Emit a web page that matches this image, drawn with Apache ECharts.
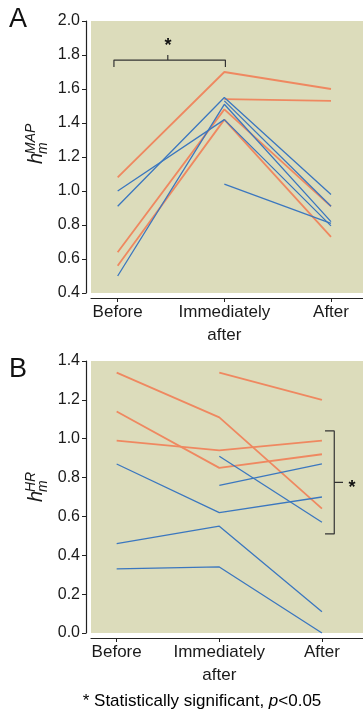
<!DOCTYPE html>
<html>
<head>
<meta charset="utf-8">
<script src="https://cdn.jsdelivr.net/npm/echarts@6/dist/echarts.min.js"></script>
<style>
  html, body { margin: 0; padding: 0; background: #fff; }
  #chart { width: 363px; height: 713px; }
</style>
</head>
<body>
<div id="chart"></div>
<script>
// time points
var categories = ['Before', 'Immediately\nafter', 'After'];

// panel A: h_m^MAP, one row per subject (null = not measured)
var mapOrange = [
    [1.08, 1.70, 1.60],
    [null, 1.54, 1.53],
    [0.64, 1.48, 0.91],
    [0.56, 1.42, 0.73]
];
var mapBlue = [
    [0.91, 1.55, 0.98],
    [null, 1.53, 0.91],
    [0.50, 1.51, 0.82],
    [1.00, 1.42, 0.795],
    [null, 1.04, 0.81]
];

// panel B: h_m^HR
var hrOrange = [
    [1.34, 1.11, 0.64],
    [1.14, 0.85, 0.92],
    [0.99, 0.94, 0.99],
    [null, 1.34, 1.20]
];
var hrBlue = [
    [0.87, 0.62, 0.70],
    [null, 0.91, 0.57],
    [null, 0.76, 0.87],
    [0.46, 0.55, 0.11],
    [0.33, 0.34, 0.00]
];

var mapTicks = [0.4, 0.6, 0.8, 1.0, 1.2, 1.4, 1.6, 1.8, 2.0];
var hrTicks = [0.0, 0.2, 0.4, 0.6, 0.8, 1.0, 1.2, 1.4];

var ORANGE = '#ef8860';
var BLUE = '#3b77bf';
var FONT = 'Liberation Sans';

function toPoints(row) {
    var pts = [];
    row.forEach(function (v, i) {
        if (v !== null) pts.push([i, v]);
    });
    return pts;
}

function lineSeries(rows, color, width, idx) {
    return rows.map(function (row) {
        return {
            type: 'line',
            xAxisIndex: idx,
            yAxisIndex: idx,
            data: toPoints(row),
            symbol: 'none',
            silent: true,
            lineStyle: { color: color, width: width },
            z: color === BLUE ? 3 : 2
        };
    });
}

function bracket(points, idx) {
    return {
        type: 'line',
        xAxisIndex: idx,
        yAxisIndex: idx,
        data: points,
        symbol: 'none',
        silent: true,
        lineStyle: { color: '#333', width: 1.2 },
        z: 4
    };
}

function xAxis(idx, max) {
    return {
        type: 'value',
        gridIndex: idx,
        min: -0.25,
        max: max,
        offset: 5,
        axisLine: { show: true, onZero: false, lineStyle: { color: '#222', width: 1.2 } },
        axisTick: { show: true, length: 4, customValues: [0, 1, 2], lineStyle: { color: '#222' } },
        splitLine: { show: false },
        axisLabel: {
            customValues: [0, 1, 2],
            margin: 3,
            fontSize: 17,
            lineHeight: 23,
            color: '#1a1a1a',
            fontFamily: FONT,
            formatter: function (v) { return categories[Math.round(v)]; }
        }
    };
}

function yAxis(idx, ticks) {
    return {
        type: 'value',
        gridIndex: idx,
        min: ticks[0],
        max: ticks[ticks.length - 1],
        interval: 0.2,
        offset: 5,
        axisLine: { show: true, onZero: false, lineStyle: { color: '#222', width: 1.2 } },
        axisTick: { show: true, length: 4, lineStyle: { color: '#222' } },
        splitLine: { show: false },
        axisLabel: {
            margin: 6,
            fontSize: 16,
            color: '#1a1a1a',
            fontFamily: FONT,
            formatter: function (v) { return v.toFixed(1); }
        }
    };
}

function yName(x, y, sup) {
    return {
        type: 'group',
        x: x,
        y: y,
        rotation: Math.PI / 2,
        children: [
            { type: 'text', x: 0, y: 0, style: { text: 'h', font: 'italic 20px ' + FONT, fill: '#1a1a1a', textVerticalAlign: 'bottom' } },
            { type: 'text', x: 10, y: -8, style: { text: sup, font: 'italic 14px ' + FONT, fill: '#1a1a1a', textVerticalAlign: 'bottom' } },
            { type: 'text', x: 10, y: 4, style: { text: 'm', font: 'italic 14px ' + FONT, fill: '#1a1a1a', textVerticalAlign: 'bottom' } }
        ]
    };
}

var series = []
    .concat(lineSeries(mapOrange, ORANGE, 1.8, 0))
    .concat(lineSeries(mapBlue, BLUE, 1.3, 0))
    .concat(lineSeries(hrOrange, ORANGE, 1.8, 1))
    .concat(lineSeries(hrBlue, BLUE, 1.3, 1));

// significance brackets
series.push(bracket([[-0.035, 1.73], [-0.035, 1.77], [0.47, 1.77], [0.47, 1.80], [0.47, 1.77], [1.01, 1.77], [1.01, 1.73]], 0));
series.push(bracket([[2.03, 1.04], [2.12, 1.04], [2.12, 0.775], [2.205, 0.775], [2.12, 0.775], [2.12, 0.51], [2.03, 0.51]], 1));

var myChart = echarts.init(document.getElementById('chart'), null, { renderer: 'canvas' });
var option = {
    animation: false,
    textStyle: { fontFamily: FONT },
    grid: [
        { left: 91, top: 21, right: 0, height: 272, show: true, backgroundColor: '#dcdcbb', borderWidth: 0 },
        { left: 91, top: 361, right: 0, height: 272, show: true, backgroundColor: '#dcdcbb', borderWidth: 0 }
    ],
    xAxis: [xAxis(0, 2.3), xAxis(1, 2.4)],
    yAxis: [yAxis(0, mapTicks), yAxis(1, hrTicks)],
    series: series,
    graphic: [
        { type: 'text', x: 9, y: 6, style: { text: 'A', font: '27px ' + FONT, fill: '#111' } },
        { type: 'text', x: 9, y: 356, style: { text: 'B', font: '27px ' + FONT, fill: '#111' } },
        yName(46, 164, 'MAP'),
        yName(46, 502, 'HR'),
        { type: 'text', x: 168, y: 46, style: { text: '*', font: 'bold 18px ' + FONT, fill: '#111', textAlign: 'center', textVerticalAlign: 'middle' } },
        { type: 'text', x: 352, y: 488, style: { text: '*', font: 'bold 18px ' + FONT, fill: '#111', textAlign: 'center', textVerticalAlign: 'middle' } },
        {
            type: 'text', x: 202, y: 701,
            style: {
                text: '{a|* Statistically significant, }{b|p}{a|<0.05}',
                textAlign: 'center',
                textVerticalAlign: 'middle',
                rich: {
                    a: { fontSize: 17, fontFamily: FONT, color: '#1a1a1a' },
                    b: { fontSize: 17, fontFamily: FONT, fontStyle: 'italic', color: '#1a1a1a' }
                }
            }
        }
    ]
};
myChart.setOption(option);
</script>
</body>
</html>
